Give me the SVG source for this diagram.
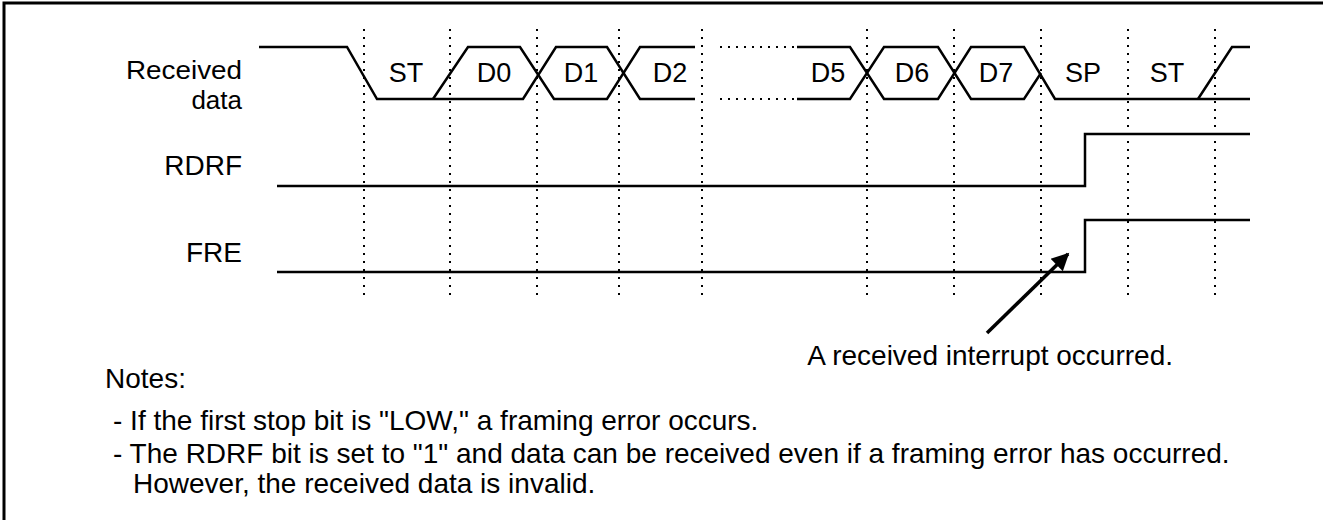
<svg xmlns="http://www.w3.org/2000/svg" width="1323" height="520" viewBox="0 0 1323 520">
  <style>
    text { font-family: "Liberation Sans", Arial, sans-serif; font-size: 28px; fill: #000; }
    .lbl { text-anchor: end; }
    .two { font-size: 26px; }
    .bit { text-anchor: middle; font-size: 27px; }
    .wave { fill: none; stroke: #000; stroke-width: 2.5; stroke-linejoin: miter; }
    .grid { stroke: #000; stroke-width: 2; stroke-dasharray: 2 6; }
    .gap { stroke: #000; stroke-width: 2; stroke-dasharray: 2 6; }
    .frame { fill: none; stroke: #000; stroke-width: 3; }
  </style>
  <defs>
    <marker id="ah" viewBox="0 0 10 10" refX="9" refY="5" markerWidth="5.5" markerHeight="5" orient="auto" markerUnits="strokeWidth">
      <path d="M0,0 L10,5 L0,10 z" fill="#000"/>
    </marker>
  </defs>
  <rect width="1323" height="520" fill="#fff"/>
  <path class="frame" d="M4,530 V3 H1330"/>

  <g id="grid">
    <line class="grid" x1="364" y1="29" x2="364" y2="297"/>
    <line class="grid" x1="450" y1="29" x2="450" y2="297"/>
    <line class="grid" x1="537" y1="29" x2="537" y2="297"/>
    <line class="grid" x1="619" y1="29" x2="619" y2="297"/>
    <line class="grid" x1="702" y1="29" x2="702" y2="297"/>
    <line class="grid" x1="867" y1="29" x2="867" y2="297"/>
    <line class="grid" x1="954" y1="29" x2="954" y2="297"/>
    <line class="grid" x1="1041" y1="29" x2="1041" y2="297"/>
    <line class="grid" x1="1128" y1="29" x2="1128" y2="297"/>
    <line class="grid" x1="1215" y1="29" x2="1215" y2="297"/>
  </g>

  <g id="received-data">
    <text class="lbl two" x="242" y="79" textLength="116" lengthAdjust="spacingAndGlyphs">Received</text>
    <text class="lbl two" x="242" y="109">data</text>
    <path class="wave" d="M259,47 H347 L377,99 H523 L556,47 H607 L640,99 H695"/>
    <path class="wave" d="M433,99 L468,47 H520 L554,99 H607 L640,47 H695"/>
    <line class="gap" x1="720" y1="47" x2="797" y2="47"/>
    <line class="gap" x1="720" y1="99" x2="797" y2="99"/>
    <path class="wave" d="M797,47 H850 L884,99 H938 L971,47 H1024 L1055,99 H1250"/>
    <path class="wave" d="M797,99 H850 L884,47 H938 L971,99 H1024 L1041,73"/>
    <path class="wave" d="M1198,99 L1232,47 H1250"/>
    <text class="bit" x="406" y="82">ST</text>
    <text class="bit" x="494" y="82">D0</text>
    <text class="bit" x="581" y="82">D1</text>
    <text class="bit" x="670" y="82">D2</text>
    <text class="bit" x="828" y="82">D5</text>
    <text class="bit" x="912" y="82">D6</text>
    <text class="bit" x="996" y="82">D7</text>
    <text class="bit" x="1083" y="82">SP</text>
    <text class="bit" x="1167" y="82">ST</text>
  </g>

  <g id="rdrf">
    <text class="lbl" x="242" y="175">RDRF</text>
    <path class="wave" d="M277,186 H1085 V134 H1250"/>
  </g>

  <g id="fre">
    <text class="lbl" x="242" y="262">FRE</text>
    <path class="wave" d="M277,272 H1085 V220 H1250"/>
  </g>

  <g id="connectors">
    <line x1="987" y1="333" x2="1068" y2="254" stroke="#000" stroke-width="3.5" marker-end="url(#ah)"/>
  </g>

  <g id="interrupt-label">
    <text x="1173" y="365" text-anchor="end">A received interrupt occurred.</text>
  </g>

  <g id="notes">
    <text x="105" y="388">Notes:</text>
    <text x="113" y="430">- If the first stop bit is "LOW," a framing error occurs.</text>
    <text x="113" y="463">- The RDRF bit is set to "1" and data can be received even if a framing error has occurred.</text>
    <text x="133" y="493">However, the received data is invalid.</text>
  </g>
</svg>
